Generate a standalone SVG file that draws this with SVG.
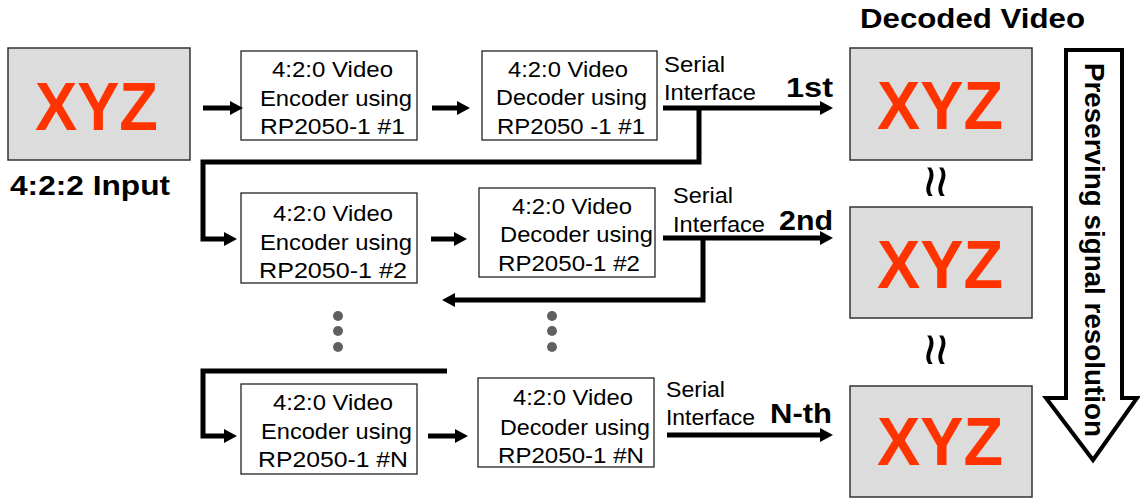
<svg xmlns="http://www.w3.org/2000/svg" width="1140" height="498" viewBox="0 0 1140 498">
<defs>
<style>
.img{fill:#dcdcdc;stroke:#333;stroke-width:1.5}
.xyz{font-family:"Liberation Sans",Arial,sans-serif;font-weight:bold;font-size:68px;fill:#ff3300}
.box{fill:#fff;stroke:#222;stroke-width:1.3}
.t{font-family:"Liberation Sans",Arial,sans-serif;font-size:22px;fill:#000}
.b{font-family:"Liberation Sans",Arial,sans-serif;font-weight:bold;font-size:28px;fill:#000}
.c{fill:none;stroke:#000;stroke-width:5;stroke-linejoin:miter}
.dot{fill:#606060}
.wave{font-family:"Liberation Sans",Arial,sans-serif;font-size:58px;fill:#000}
</style>
<marker id="ah" markerWidth="14" markerHeight="14" refX="5" refY="7" orient="auto" markerUnits="userSpaceOnUse"><path d="M0,0 L13,7 L0,14 z" fill="#000"/></marker>
</defs>
<rect width="1140" height="498" fill="#fff"/>

<g id="input">
<rect class="img" x="8" y="48" width="182" height="112"/>
<text class="xyz" x="35" y="130" textLength="123" lengthAdjust="spacingAndGlyphs">XYZ</text>
<text class="b" x="10" y="195" font-size="30" textLength="160" lengthAdjust="spacingAndGlyphs">4:2:2 Input</text>
</g>

<g id="enc1">
<rect class="box" x="241" y="51" width="176" height="89"/>
<text class="t" x="272" y="77" textLength="121" lengthAdjust="spacingAndGlyphs">4:2:0 Video</text>
<text class="t" x="260" y="106" textLength="152" lengthAdjust="spacingAndGlyphs">Encoder using</text>
<text class="t" x="260" y="134" textLength="145" lengthAdjust="spacingAndGlyphs">RP2050-1 #1</text>
</g>
<g id="dec1">
<rect class="box" x="482" y="51" width="175" height="89"/>
<text class="t" x="508" y="77" textLength="120" lengthAdjust="spacingAndGlyphs">4:2:0 Video</text>
<text class="t" x="496" y="105" textLength="151" lengthAdjust="spacingAndGlyphs">Decoder using</text>
<text class="t" x="497" y="134" textLength="148" lengthAdjust="spacingAndGlyphs">RP2050 -1 #1</text>
</g>

<g id="enc2">
<rect class="box" x="241" y="193" width="176" height="90"/>
<text class="t" x="273" y="221" textLength="120" lengthAdjust="spacingAndGlyphs">4:2:0 Video</text>
<text class="t" x="260" y="250" textLength="152" lengthAdjust="spacingAndGlyphs">Encoder using</text>
<text class="t" x="259" y="278" textLength="148" lengthAdjust="spacingAndGlyphs">RP2050-1 #2</text>
</g>
<g id="dec2">
<rect class="box" x="479" y="188" width="176" height="89"/>
<text class="t" x="512" y="214" textLength="120" lengthAdjust="spacingAndGlyphs">4:2:0 Video</text>
<text class="t" x="500" y="242" textLength="153" lengthAdjust="spacingAndGlyphs">Decoder using</text>
<text class="t" x="498" y="271" textLength="142" lengthAdjust="spacingAndGlyphs">RP2050-1 #2</text>
</g>

<g id="encN">
<rect class="box" x="241" y="384" width="176" height="90"/>
<text class="t" x="273" y="410" textLength="120" lengthAdjust="spacingAndGlyphs">4:2:0 Video</text>
<text class="t" x="261" y="439" textLength="151" lengthAdjust="spacingAndGlyphs">Encoder using</text>
<text class="t" x="258" y="467" textLength="150" lengthAdjust="spacingAndGlyphs">RP2050-1 #N</text>
</g>
<g id="decN">
<rect class="box" x="478" y="378" width="176" height="89"/>
<text class="t" x="513" y="405" textLength="120" lengthAdjust="spacingAndGlyphs">4:2:0 Video</text>
<text class="t" x="500" y="435" textLength="150" lengthAdjust="spacingAndGlyphs">Decoder using</text>
<text class="t" x="498" y="463" textLength="146" lengthAdjust="spacingAndGlyphs">RP2050-1 #N</text>
</g>

<g id="dots">
<circle class="dot" cx="338" cy="316" r="5"/>
<circle class="dot" cx="338" cy="331" r="5"/>
<circle class="dot" cx="338" cy="347" r="5"/>
<circle class="dot" cx="552" cy="316" r="5"/>
<circle class="dot" cx="552" cy="331" r="5"/>
<circle class="dot" cx="552" cy="347" r="5"/>
</g>

<g id="connectors">
<path class="c" d="M203,108 H235" marker-end="url(#ah)"/>
<path class="c" d="M432,108 H462" marker-end="url(#ah)"/>
<path class="c" d="M663,108 H825" marker-end="url(#ah)"/>
<path class="c" d="M699,108 V162 H203 V239 H229" marker-end="url(#ah)"/>
<path class="c" d="M431,239 H459" marker-end="url(#ah)"/>
<path class="c" d="M663,238 H825" marker-end="url(#ah)"/>
<path class="c" d="M703,238 V300 H450" marker-end="url(#ah)"/>
<path class="c" d="M447,371 H203 V436 H229" marker-end="url(#ah)"/>
<path class="c" d="M428,436 H460" marker-end="url(#ah)"/>
<path class="c" d="M667,435 H825" marker-end="url(#ah)"/>
</g>

<g id="labels">
<text class="t" x="664" y="72" textLength="61" lengthAdjust="spacingAndGlyphs">Serial</text>
<text class="t" x="664" y="100" textLength="92" lengthAdjust="spacingAndGlyphs">Interface</text>
<text class="b" x="786" y="97" textLength="47" lengthAdjust="spacingAndGlyphs">1st</text>
<text class="t" x="673" y="203" textLength="60" lengthAdjust="spacingAndGlyphs">Serial</text>
<text class="t" x="673" y="232" textLength="92" lengthAdjust="spacingAndGlyphs">Interface</text>
<text class="b" x="779" y="230" textLength="54" lengthAdjust="spacingAndGlyphs">2nd</text>
<text class="t" x="666" y="397" textLength="59" lengthAdjust="spacingAndGlyphs">Serial</text>
<text class="t" x="666" y="425" textLength="89" lengthAdjust="spacingAndGlyphs">Interface</text>
<text class="b" x="770" y="423" textLength="62" lengthAdjust="spacingAndGlyphs">N-th</text>
</g>

<g id="decoded">
<text class="b" x="860" y="28" textLength="225" lengthAdjust="spacingAndGlyphs">Decoded Video</text>
<rect class="img" x="850" y="48" width="182" height="112"/>
<text class="xyz" x="877" y="129" textLength="126" lengthAdjust="spacingAndGlyphs">XYZ</text>
<rect class="img" x="850" y="207" width="182" height="111"/>
<text class="xyz" x="877" y="288" textLength="126" lengthAdjust="spacingAndGlyphs">XYZ</text>
<rect class="img" x="850" y="386" width="182" height="111"/>
<text class="xyz" x="877" y="465" textLength="126" lengthAdjust="spacingAndGlyphs">XYZ</text>
<text class="wave" transform="translate(937,182) rotate(90)" y="20" text-anchor="middle">≈</text>
<text class="wave" transform="translate(937,350) rotate(90)" y="20" text-anchor="middle">≈</text>
</g>

<g id="preserve">
<path d="M1066,50 H1122 V398 H1137 L1093,460 L1046,398 H1066 Z" fill="#fff" stroke="#000" stroke-width="4" stroke-linejoin="miter"/>
<text class="b" transform="translate(1085,63) rotate(90)" textLength="374" lengthAdjust="spacingAndGlyphs">Preserving signal resolution</text>
</g>
</svg>
